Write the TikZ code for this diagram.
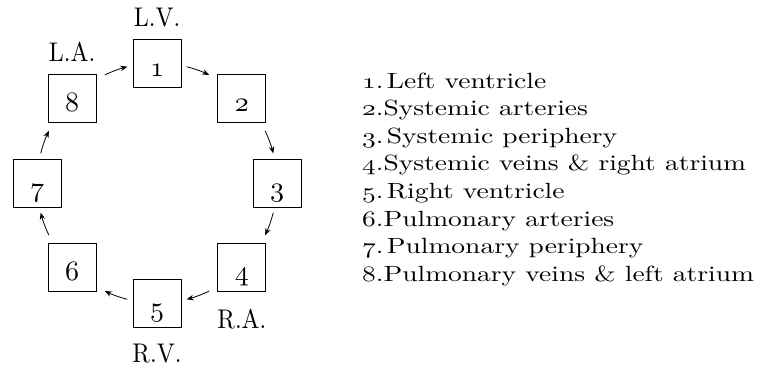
\documentclass[tikz,border=0pt]{standalone}
\usepackage{graphicx}
\usetikzlibrary{arrows.meta}
% old-style figures from the Latin Modern math italic font
\newcommand\osf[1]{{\usefont{OML}{lmm}{m}{it}#1}}
% text set in the 10pt design and enlarged, keeping its sturdier strokes
\newcommand\keytext[1]{\scalebox{2.75}[2.2]{#1}}
\newcommand\tagtext[1]{\scalebox{2.4}[2.7]{#1}}
\newcommand\boxtext[1]{\scalebox{2.8}{\osf{#1}}}
\newcommand\gap{\kern1.2pt}
\begin{document}
\begin{tikzpicture}[x=1pt,y=1pt,
  chamber/.style={draw, line width=0.9pt, minimum size=48pt, inner sep=0pt,
    text height=26pt, text depth=0pt},
  tag/.style={anchor=base, inner sep=0pt},
  flow/.style={line width=0.8pt, -{Stealth[length=7pt,width=5.5pt]}},
  legend/.style={anchor=base west, inner sep=0pt}]
\useasboundingbox (0,0) rectangle (760,-368);

% the eight stations of the circulation, on a ring around the hub
\coordinate (hub) at (157,-183);
\foreach \i/\a in {1/90,2/45,3/0,4/-45,5/-90,6/-135,7/180,8/135}
  \node[chamber] (n\i) at ([shift={(\a:120pt)}]hub) {\boxtext{\i}};

% chamber labels
\node[tag] (lv) at ([yshift=12pt]n1.north) {\tagtext{L.V.}};
\node[tag] (la) at ([yshift=12pt]n8.north) {\tagtext{L.A.}};
\node[tag] (ra) at ([yshift=-36pt]n4.south) {\tagtext{R.A.}};
\node[tag] (rv) at ([yshift=-35pt]n5.south) {\tagtext{R.V.}};

% flow arrows: short arcs on the ring between neighbouring stations
\foreach \s/\e in {75.7/64.2, 25.8/14.3, -14.3/-25.8, -64.2/-75.7,
                   -104.3/-115.8, -154.2/-165.7, 165.7/154.2, 115.8/104.3}
  \draw[flow] ([shift={(\s:120pt)}]hub) arc[start angle=\s, end angle=\e, radius=120pt];

% key
\node[legend] (k1) at (362,-88.0)  {\keytext{\osf{1}.\gap Left ventricle}};
\node[legend] (k2) at (362,-115.6) {\keytext{\osf{2}.Systemic arteries}};
\node[legend] (k3) at (362,-143.2) {\keytext{\osf{3}.\gap Systemic periphery}};
\node[legend] (k4) at (362,-170.8) {\keytext{\osf{4}.Systemic veins \& right atrium}};
\node[legend] (k5) at (362,-198.4) {\keytext{\osf{5}.\gap Right ventricle}};
\node[legend] (k6) at (362,-226.0) {\keytext{\osf{6}.Pulmonary arteries}};
\node[legend] (k7) at (362,-253.6) {\keytext{\osf{7}.\gap Pulmonary periphery}};
\node[legend] (k8) at (362,-281.2) {\keytext{\osf{8}.Pulmonary veins \& left atrium}};
\end{tikzpicture}
\end{document}
